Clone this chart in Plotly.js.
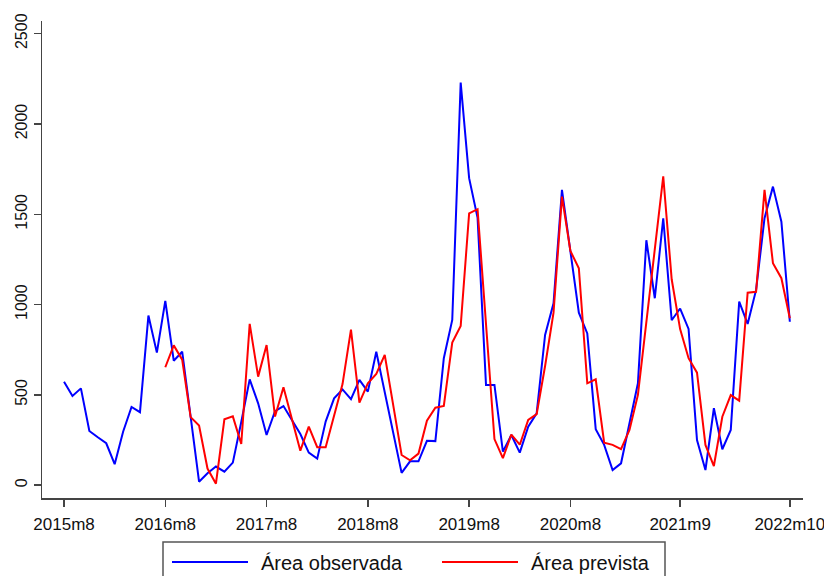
<!DOCTYPE html>
<html>
<head>
<meta charset="utf-8">
<script src="https://cdn.plot.ly/plotly-3.0.1.min.js"></script>
<style>
  html, body { margin: 0; padding: 0; background: #ffffff; }
  #chart { width: 824px; height: 576px; }
</style>
</head>
<body>
<div id="chart"></div>
<script>
// Months (categories), 2015m8 .. 2022m10
const months = [
  "2015m8","2015m9","2015m10","2015m11","2015m12",
  "2016m1","2016m2","2016m3","2016m4","2016m5","2016m6","2016m7","2016m8","2016m9","2016m10","2016m11","2016m12",
  "2017m1","2017m2","2017m3","2017m4","2017m5","2017m6","2017m7","2017m8","2017m9","2017m10","2017m11","2017m12",
  "2018m1","2018m2","2018m3","2018m4","2018m5","2018m6","2018m7","2018m8","2018m9","2018m10","2018m11","2018m12",
  "2019m1","2019m2","2019m3","2019m4","2019m5","2019m6","2019m7","2019m8","2019m9","2019m10","2019m11","2019m12",
  "2020m1","2020m2","2020m3","2020m4","2020m5","2020m6","2020m7","2020m8","2020m9","2020m10","2020m11","2020m12",
  "2021m1","2021m2","2021m3","2021m4","2021m5","2021m6","2021m7","2021m8","2021m9","2021m10","2021m11","2021m12",
  "2022m1","2022m2","2022m3","2022m4","2022m5","2022m6","2022m7","2022m8","2022m9","2022m10"
];

// Área observada (blue)
const observada = [
  573, 494, 536, 300, 265, 232, 116, 296, 433, 404,
  939, 734, 1020, 689, 739, 380, 19, 66, 103, 75,
  125, 350, 586, 453, 278, 410, 438, 361, 283, 180,
  147, 352, 481, 530, 476, 583, 518, 739, 520, 290,
  68, 132, 132, 246, 244, 703, 915, 2229, 1700, 1480,
  555, 555, 186, 278, 180, 324, 398, 832, 1007, 1635,
  1300, 955, 840, 310, 223, 84, 121, 343, 564, 1356,
  1035, 1478, 913, 978, 865, 250, 84, 426, 199, 306,
  1016, 893, 1081, 1478, 1653, 1459, 905
];

// Área prevista (red), starts at 2016m8
const previstaMonths = months.slice(12);
const prevista = [
  653, 774, 695, 377, 330, 92, 8, 365, 381, 228,
  893, 601, 776, 380, 542, 370, 191, 324, 210, 210,
  379, 560, 861, 457, 564, 616, 721, 444, 167, 138,
  175, 357, 429, 439, 789, 882, 1505, 1528, 900, 255,
  150, 280, 224, 361, 393, 660, 955, 1598, 1297, 1201,
  564, 586, 235, 223, 199, 306, 500, 915, 1310, 1710,
  1140, 864, 703, 623, 223, 106, 379, 499, 468, 1066,
  1071, 1635, 1229, 1146, 924
];

const xTicks = ["2015m8","2016m8","2017m8","2018m8","2019m8","2020m8","2021m9","2022m10"];
const yTicks = [0, 500, 1000, 1500, 2000, 2500];
const legendNames = ["Área observada", "Área prevista"];

const FONT = "Liberation Sans, Arial, Helvetica, sans-serif";

const traces = [
  { x: months, y: observada, type: "scatter", mode: "lines", name: legendNames[0],
    line: { color: "#0000ff", width: 2 }, hoverinfo: "x+y" },
  { x: previstaMonths, y: prevista, type: "scatter", mode: "lines", name: legendNames[1],
    line: { color: "#ff0000", width: 2 }, hoverinfo: "x+y" }
];

// custom legend (paper coordinates)
const L = { l: 42, r: 21, t: 21, b: 78 };
const pw = 824 - L.l - L.r, ph = 576 - L.t - L.b;
const px = v => (v - L.l) / pw;
const py = v => (576 - L.b - v) / ph;

const layout = {
  width: 824, height: 576,
  margin: L,
  paper_bgcolor: "#ffffff", plot_bgcolor: "#ffffff",
  showlegend: false,
  font: { family: FONT, color: "#111111" },
  xaxis: {
    type: "category",
    categoryorder: "array", categoryarray: months,
    range: [-2.61, 87.56],
    tickmode: "array", tickvals: xTicks, ticktext: xTicks,
    ticks: "outside", ticklen: 7, tickwidth: 1.5, tickcolor: "#444444",
    showline: true, linecolor: "#444444", linewidth: 1.5,
    showgrid: false, zeroline: false,
    tickfont: { size: 17, family: FONT, color: "#111111" },
    ticklabelstandoff: 3
  },
  yaxis: {
    range: [-71, 2570],
    tickmode: "array", tickvals: yTicks, ticktext: yTicks.map(String),
    tickangle: -90,
    ticks: "outside", ticklen: 7, tickwidth: 1.5, tickcolor: "#444444",
    showline: true, linecolor: "#444444", linewidth: 1.5,
    showgrid: false, zeroline: false,
    tickfont: { size: 16, family: FONT, color: "#111111" }
  },
  shapes: [
    { type: "rect", xref: "paper", yref: "paper",
      x0: px(163), x1: px(665), y0: py(542), y1: py(610),
      line: { color: "#555555", width: 1.5 }, fillcolor: "rgba(0,0,0,0)", layer: "above" },
    { type: "line", xref: "paper", yref: "paper",
      x0: px(172), x1: px(248), y0: py(562), y1: py(562),
      line: { color: "#0000ff", width: 2 } },
    { type: "line", xref: "paper", yref: "paper",
      x0: px(442), x1: px(518), y0: py(562), y1: py(562),
      line: { color: "#ff0000", width: 2 } }
  ],
  annotations: [
    { xref: "paper", yref: "paper", x: px(259), y: py(563), xanchor: "left", yanchor: "middle",
      text: legendNames[0], showarrow: false, font: { size: 20, family: FONT, color: "#111111" } },
    { xref: "paper", yref: "paper", x: px(529), y: py(563), xanchor: "left", yanchor: "middle",
      text: legendNames[1], showarrow: false, font: { size: 20, family: FONT, color: "#111111" } }
  ]
};

Plotly.newPlot("chart", traces, layout, { staticPlot: true, displayModeBar: false });
</script>
</body>
</html>
